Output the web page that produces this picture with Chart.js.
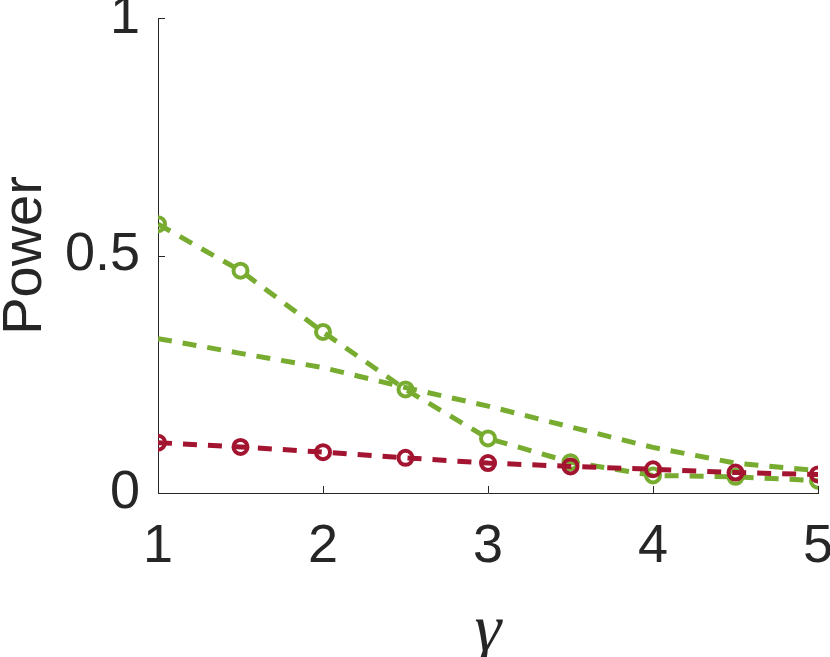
<!DOCTYPE html>
<html>
<head>
<meta charset="utf-8">
<script src="https://cdn.jsdelivr.net/npm/chart.js@4.4.1/dist/chart.umd.min.js"></script>
<style>
  html, body { margin: 0; padding: 0; background: #ffffff; }
  #wrap { width: 830px; height: 657px; position: relative; }
</style>
</head>
<body>
<div id="wrap"><canvas id="c" width="830" height="657"></canvas></div>
<script>
// ---- data ----
const gammaValues = [1, 1.5, 2, 2.5, 3, 3.5, 4, 4.5, 5];
const greenMarked = [0.566, 0.468, 0.339, 0.218, 0.115, 0.065, 0.037, 0.034, 0.026];
const greenPlain  = [0.325, 0.294, 0.264, 0.222, 0.183, 0.139, 0.096, 0.063, 0.047];
const redMarked   = [0.106, 0.097, 0.086, 0.074, 0.063, 0.056, 0.050, 0.043, 0.039];
const xTickValues = [1, 2, 3, 4, 5];
const yTickValues = [0, 0.5, 1];
const yTickLabels = ['0', '0.5', '1'];
const xTitle = 'γ';
const yTitle = 'Power';

const GREEN = '#77AC30';
const RED = '#A2142F';
const AXIS = '#262626';

function pts(vals) { return gammaValues.map((x, i) => ({ x: x, y: vals[i] })); }

const inwardTicks = {
  id: 'inwardTicks',
  afterDraw(chart) {
    const ctx = chart.ctx, xs = chart.scales.x, ys = chart.scales.y;
    const a = chart.chartArea;
    ctx.save();
    ctx.strokeStyle = AXIS;
    ctx.lineWidth = 1;
    ctx.beginPath();
    xTickValues.forEach(v => {
      const px = Math.round(xs.getPixelForValue(v)) + 0.5;
      ctx.moveTo(px, a.bottom); ctx.lineTo(px, a.bottom - 7);
    });
    yTickValues.forEach(v => {
      const py = Math.round(ys.getPixelForValue(v)) + 0.5;
      ctx.moveTo(a.left, py); ctx.lineTo(a.left + 7, py);
    });
    ctx.stroke();
    ctx.restore();
  }
};

const common = { fill: false, tension: 0, borderWidth: 5, borderDash: [14, 11], pointBackgroundColor: 'rgba(0,0,0,0)' };

new Chart(document.getElementById('c'), {
  type: 'line',
  data: {
    datasets: [
      Object.assign({}, common, { label: 'red', data: pts(redMarked), borderColor: RED, pointBorderColor: RED, pointRadius: 7, pointBorderWidth: 4, order: 0 }),
      Object.assign({}, common, { label: 'green marked', data: pts(greenMarked), borderColor: GREEN, pointBorderColor: GREEN, pointRadius: 7, pointBorderWidth: 4, order: 1 }),
      Object.assign({}, common, { label: 'green', data: pts(greenPlain), borderColor: GREEN, pointRadius: 0, order: 2 })
    ]
  },
  options: {
    responsive: false,
    animation: false,
    events: [],
    layout: { padding: { top: 18, right: 12, left: 0, bottom: 0 } },
    plugins: { legend: { display: false }, tooltip: { enabled: false } },
    scales: {
      x: {
        type: 'linear', min: 1, max: 5,
        grid: { display: false, drawTicks: false },
        border: { display: true, color: AXIS, width: 1 },
        afterBuildTicks: s => { s.ticks = xTickValues.map(v => ({ value: v })); },
        ticks: {
          color: AXIS, padding: 22, maxRotation: 0, autoSkip: false,
          font: { family: 'Liberation Sans, Arial, sans-serif', size: 54 },
          callback: v => String(v)
        },
        title: {
          display: true, text: xTitle, color: AXIS, padding: { top: 0, bottom: 0 },
          font: { family: 'Liberation Serif, Times New Roman, serif', size: 68, style: 'italic', lineHeight: 0.7 }
        },
        afterFit: s => { s.height = 164; s.paddingRight = 0; s.paddingLeft = 0; }
      },
      y: {
        type: 'linear', min: 0, max: 1,
        grid: { display: false, drawTicks: false },
        border: { display: true, color: AXIS, width: 1 },
        afterBuildTicks: s => { s.ticks = yTickValues.map(v => ({ value: v })); },
        ticks: {
          color: AXIS, padding: 18, autoSkip: false,
          font: { family: 'Liberation Sans, Arial, sans-serif', size: 54 },
          callback: v => yTickLabels[yTickValues.indexOf(v)]
        },
        title: {
          display: true, text: yTitle, color: AXIS, padding: { top: 0, bottom: 0 },
          font: { family: 'Liberation Sans, Arial, sans-serif', size: 56, lineHeight: 0.9 }
        },
        afterFit: s => { s.width = 158; s.paddingTop = 0; s.paddingBottom = 0; }
      }
    }
  },
  plugins: [inwardTicks]
});
</script>
</body>
</html>
